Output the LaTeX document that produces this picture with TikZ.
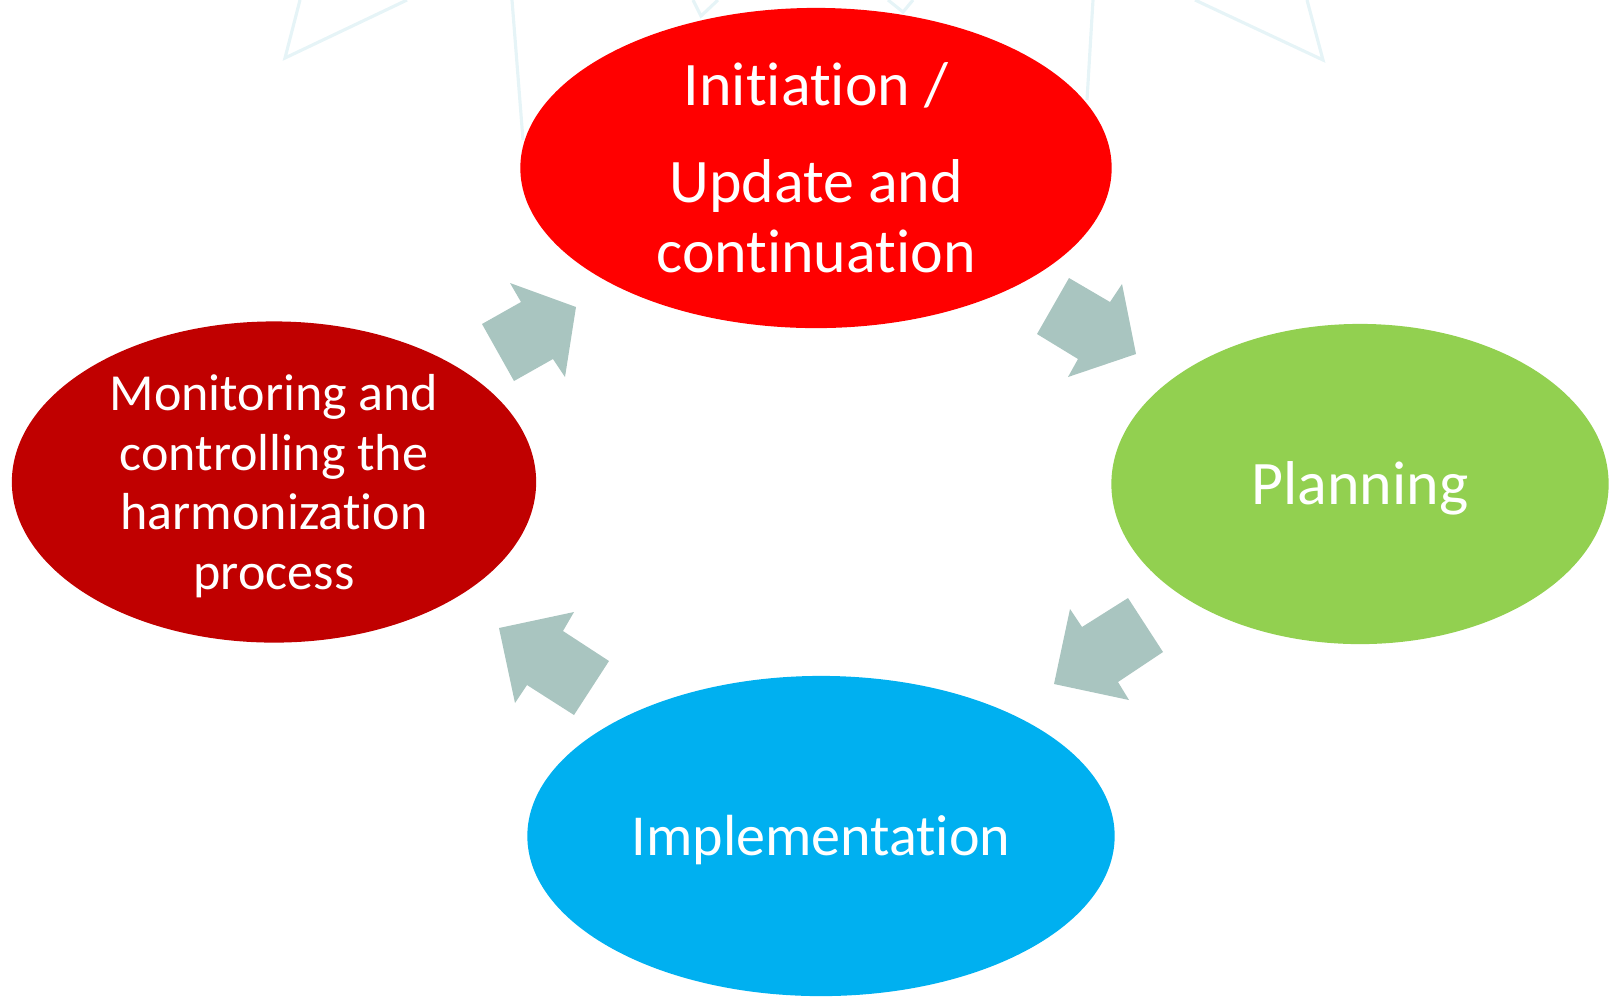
\documentclass[tikz,border=0pt]{standalone}
\usepackage{fontspec}
\setmainfont{Carlito}[Ligatures=NoCommon]
\usetikzlibrary{shapes.geometric}
\definecolor{initred}{HTML}{FF0000}
\definecolor{monired}{HTML}{C00000}
\definecolor{plangreen}{HTML}{92D050}
\definecolor{implblue}{HTML}{00B0F0}
\definecolor{cyclegray}{HTML}{A9C5C0}
\definecolor{starcyan}{RGB}{230,244,247}

\begin{document}
\begin{tikzpicture}[x=0.01cm, y=-0.01cm,
		phase/.style={ellipse, inner sep=0pt, text=white, align=center},
		cyclearrow/.style={fill=cyclegray},
		starline/.style={draw=starcyan, line width=0.9pt, line join=miter}]
			%%%%% START %%%%%
			\useasboundingbox (0,0) rectangle (1609,996);
			
			% faint star outlines behind
			\draw[starline] (300,0) -- (285,58) -- (407,0);
			\draw[starline] (512,0) -- (523,140);
			\draw[starline] (693,0) -- (701,16) -- (718,0);
			\draw[starline] (888,0) -- (903,12) -- (913,0);
			\draw[starline] (1093,0) -- (1087,100);
			\draw[starline] (1195,0) -- (1323,60) -- (1307,0);
			
			\node[phase, fill=initred, minimum width=5.91cm, minimum height=3.2cm,
				font=\fontsize{17.6}{19.9}\selectfont] (init) at (816,168)
				{Initiation /\\[7.7pt] Update and\\ continuation};
			\node[phase, text height=16.2pt, text depth=4.4pt, fill=plangreen, minimum width=4.97cm, minimum height=3.2cm,
				font=\fontsize{17.6}{20}\selectfont] (plan) at (1360,484) {Planning};
			\node[phase, text height=15.2pt, text depth=4.1pt, fill=implblue, minimum width=5.87cm, minimum height=3.2cm,
				font=\fontsize{16.5}{19}\selectfont] (impl) at (821,836) {Implementation};
			\node[phase, text depth=0pt, fill=monired, minimum width=5.24cm, minimum height=3.21cm,
				font=\fontsize{14.8}{16.9}\selectfont] (moni) at (274,482)
				{Monitoring and\\ controlling the\\ harmonization\\ process};
			
			% block arrows of the cycle
			\fill[cyclearrow] (482,324) -- (514,381) -- (553,359) -- (565,377) -- (576,307) -- (510,283) -- (521,302) -- cycle;
			\fill[cyclearrow] (1037,334) -- (1069,278) -- (1110,302) -- (1122,284) -- (1136,354) -- (1068,377) -- (1078,359) -- cycle;
			\fill[cyclearrow] (1128,598) -- (1163,652) -- (1118,682) -- (1129,700) -- (1054,684) -- (1070,609) -- (1082,627) -- cycle;
			\fill[cyclearrow] (499,628) -- (574,612) -- (563,631) -- (609,661) -- (574,715) -- (527,685) -- (515,703) -- cycle;
			%%%%% END %%%%%
		\end{tikzpicture}
\end{document}
